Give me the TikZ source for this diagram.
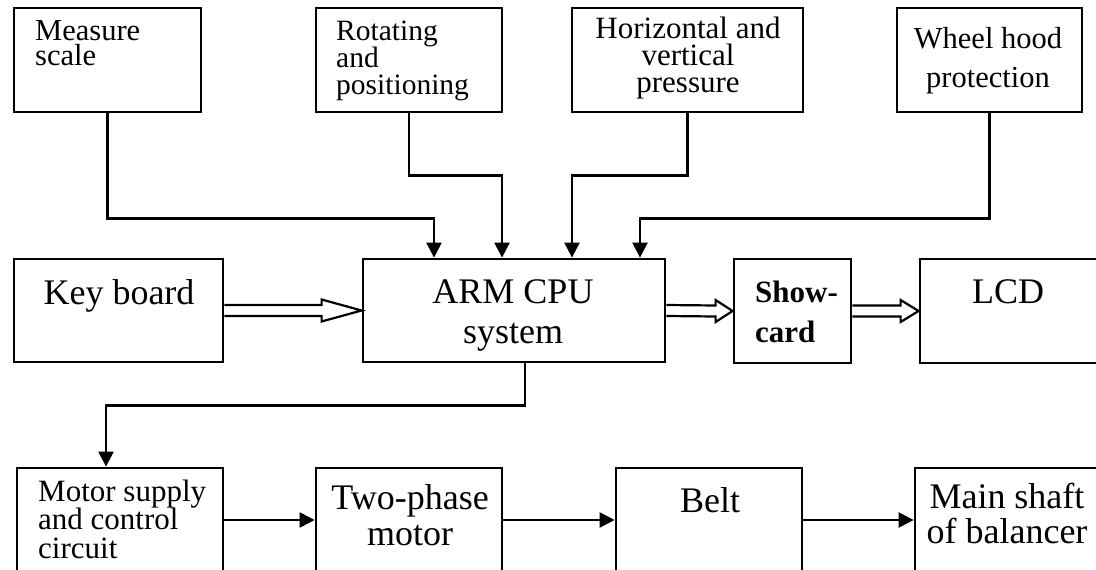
\documentclass[tikz,border=0pt]{standalone}
\usepackage{fontspec}
\setmainfont{Liberation Serif}
\usetikzlibrary{arrows.meta,calc}
\tikzset{
  box/.style={draw, line width=2.8pt, inner sep=0pt, rectangle},
  conn/.style={line width=2.4pt, -{Triangle[length=15pt,width=15pt]}},
  dbl/.style={line width=2.2pt, line join=miter},
  small/.style={inner sep=0pt, font=\fontsize{30.5}{25}\selectfont},
  big/.style={inner sep=0pt, font=\fontsize{36}{40}\selectfont},
}
\newcommand\dblarr[3]{\draw[dbl] ([yshift=5.5pt]#1.east) -- ([xshift=-#3,yshift=5.5pt]#2.west) -- ([xshift=-#3,yshift=11pt]#2.west) -- (#2.west) -- ([xshift=-#3,yshift=-11pt]#2.west) -- ([xshift=-#3,yshift=-5.5pt]#2.west) -- ([yshift=-5.5pt]#1.east);}
\begin{document}
\begin{tikzpicture}[x=1pt,y=-1pt]
\useasboundingbox (0,0) rectangle (1096,570);
\clip (0,0) rectangle (1096,570);
\fill[white] (0,0) rectangle (1096,570);
% top row
\node[box, minimum width=187pt, minimum height=104pt] (ms) at (107.5,60) {};
\node[box, minimum width=186pt, minimum height=104pt] (rp) at (409,60) {};
\node[box, minimum width=231pt, minimum height=104pt] (hv) at (687.5,60) {};
\node[box, minimum width=185pt, minimum height=104pt] (wh) at (989.5,60) {};
% middle row
\node[box, minimum width=209pt, minimum height=103pt] (kb) at (118.5,310.5) {};
\node[box, minimum width=302pt, minimum height=103pt] (arm) at (514,310.5) {};
\node[box, minimum width=117pt, minimum height=104pt] (sc) at (792.5,311) {};
\node[box, minimum width=182pt, minimum height=104pt] (lcd) at (1011,311) {};
% bottom row
\node[box, minimum width=206pt, minimum height=122pt] (msc) at (120,529) {};
\node[box, minimum width=186pt, minimum height=122pt] (tp) at (409,529) {};
\node[box, minimum width=186pt, minimum height=122pt] (belt) at (709,529) {};
\node[box, minimum width=190pt, minimum height=122pt] (shaft) at (1010,529) {};
% texts (anchor base = baseline of last line)
\node[small, anchor=base west, align=left] (tms) at (35,65) {Measure\\scale};
\node[small, anchor=base west, align=left, font=\fontsize{29.5}{27}\selectfont] (trp) at (336,94) {Rotating\\and\\positioning};
\node[small, anchor=base, align=center, font=\fontsize{31}{27}\selectfont] (thv) at (688,92) {Horizontal and\\vertical\\pressure};
\node[small, anchor=base, align=center, font=\fontsize{30.5}{39}\selectfont] (twh) at (988,87) {Wheel hood\\protection};
\node[big, anchor=base] (tkb) at (119,304) {Key board};
\node[big, anchor=base, align=center] (tarm) at (513,343) {ARM CPU\\system};
\node[inner sep=0pt, anchor=base west, align=left, font=\fontsize{31}{40}\selectfont\bfseries] (tsc) at (755,342) {Show-\\card};
\node[big, anchor=base] (tlcd) at (1008,303) {LCD};
\node[inner sep=0pt, anchor=base west, align=left, font=\fontsize{31}{28.5}\selectfont] (tmsc) at (38,558) {Motor supply\\and control\\circuit};
\node[big, anchor=base, align=center, font=\fontsize{36}{36}\selectfont] (ttp) at (410,545) {Two-phase\\motor};
\node[big, anchor=base] (tbelt) at (710,512) {Belt};
\node[big, anchor=base, align=center, font=\fontsize{36}{35}\selectfont] (tshaft) at (1007,543) {Main shaft\\of balancer};
% connectors from top
\draw[conn] (ms.south) -- ++(0,105) -| ([xshift=-80pt]arm.north);
\draw[conn] (rp.south) -- ++(0,62) -| ([xshift=-12pt]arm.north);
\draw[conn] (hv.south) -- ++(0,62) -| ([xshift=58pt]arm.north);
\draw[conn] (wh.south) -- ++(0,105) -| ([xshift=126pt]arm.north);
% ARM to motor supply
\draw[conn] ([xshift=11pt]arm.south) -- ++(0,42) -| ([xshift=-14pt]msc.north);
% bottom chain
\draw[conn] ([yshift=9pt]msc.east) -- ([yshift=9pt]tp.west);
\draw[conn] ([yshift=9pt]tp.east) -- ([yshift=9pt]belt.west);
\draw[conn] ([yshift=9pt]belt.east) -- ([yshift=9pt]shaft.west);
% double arrows
\dblarr{kb}{arm}{40pt}
\dblarr{arm}{sc}{17pt}
\dblarr{sc}{lcd}{18pt}
\end{tikzpicture}
\end{document}
